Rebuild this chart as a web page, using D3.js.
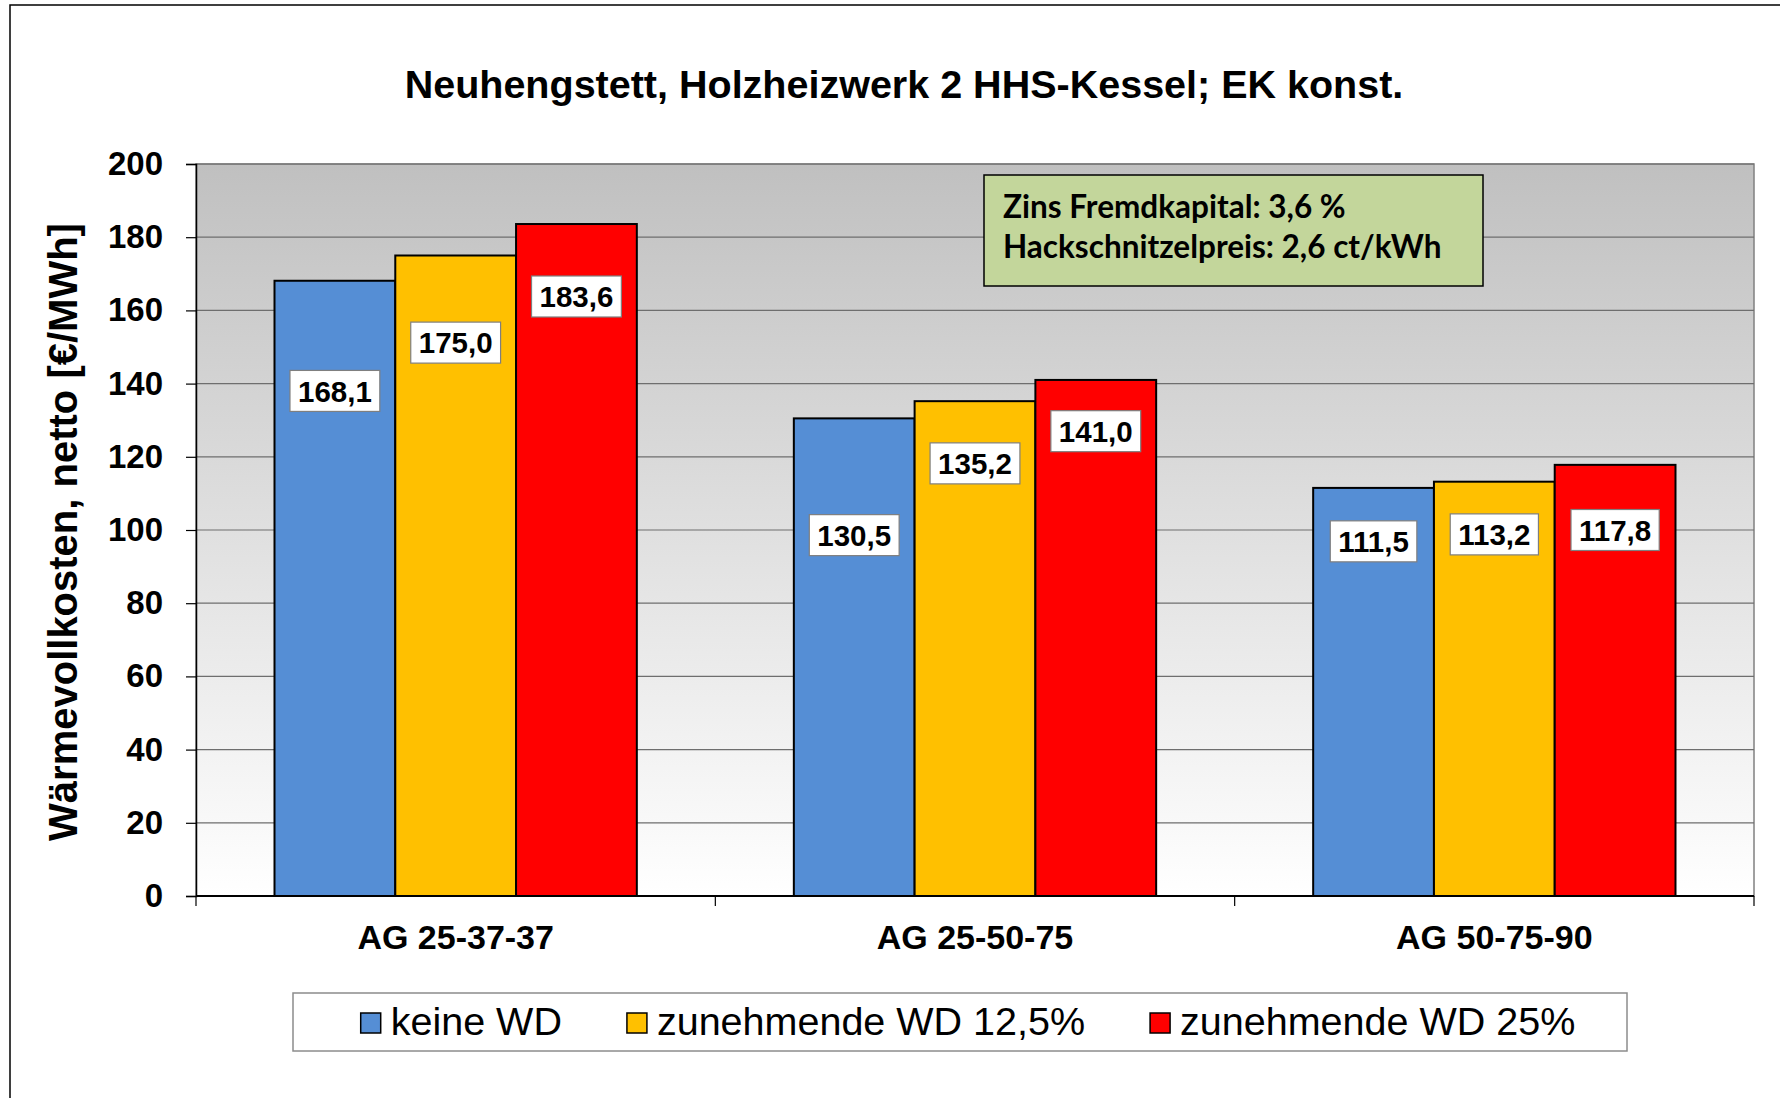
<!DOCTYPE html>
<html>
<head>
<meta charset="utf-8">
<script src="https://cdn.jsdelivr.net/npm/d3@7"></script>
<style>
  html, body { margin: 0; padding: 0; background: #fff; }
  svg { display: block; }
</style>
</head>
<body>
<script>
// ---- data ----
const categories = ["AG 25-37-37", "AG 25-50-75", "AG 50-75-90"];
const seriesNames = ["keine WD", "zunehmende WD 12,5%", "zunehmende WD 25%"];
const keineWD = [168.1, 130.5, 111.5];
const zunehmend125 = [175.0, 135.2, 113.2];
const zunehmend25 = [183.6, 141.0, 117.8];
const yTicks = [0, 20, 40, 60, 80, 100, 120, 140, 160, 180, 200];
const titleText = "Neuhengstett, Holzheizwerk 2 HHS-Kessel; EK konst.";
const yAxisTitle = "Wärmevollkosten, netto [€/MWh]";
const noteLines = ["Zins Fremdkapital: 3,6 %", "Hackschnitzelpreis: 2,6 ct/kWh"];
// label centres (in data units) as placed in the original chart
const labelAtKeine = [138.0, 98.6, 96.9];
const labelAt125 = [151.2, 118.2, 98.8];
const labelAt25 = [163.8, 127.0, 100.0];

const seriesValues = [keineWD, zunehmend125, zunehmend25];
const labelAts = [labelAtKeine, labelAt125, labelAt25];
const colors = ["#558ED5", "#FFC000", "#FF0000"];

const W = 1780, H = 1098;
const plot = { left: 196, right: 1754, top: 164, bottom: 896 };
const FONT = "'Liberation Sans', Arial, sans-serif";

const svg = d3.select("body").append("svg").attr("width", W).attr("height", H);

// outer chart border
svg.append("rect").attr("x", 10).attr("y", 5).attr("width", W + 20).attr("height", H + 20)
  .attr("fill", "#fff").attr("stroke", "#000").attr("stroke-width", 1.5);

// gradient
const defs = svg.append("defs");
const grad = defs.append("linearGradient").attr("id", "bg").attr("x1", 0).attr("y1", 0).attr("x2", 0).attr("y2", 1);
grad.append("stop").attr("offset", "0%").attr("stop-color", "#c0c0c0");
grad.append("stop").attr("offset", "100%").attr("stop-color", "#ffffff");

const y = d3.scaleLinear().domain([0, 200]).range([plot.bottom, plot.top]);
const x0 = d3.scaleBand().domain(categories).range([plot.left, plot.right]).paddingInner(0).paddingOuter(0);
const x1 = d3.scaleBand().domain(d3.range(seriesNames.length)).range([0, x0.bandwidth()]).paddingInner(0).paddingOuter(0.65);

// plot area background
svg.append("rect").attr("x", plot.left).attr("y", plot.top)
  .attr("width", plot.right - plot.left).attr("height", plot.bottom - plot.top)
  .attr("fill", "url(#bg)").attr("stroke", "#808080").attr("stroke-width", 1.5);

// gridlines
svg.append("g").selectAll("line").data(yTicks.filter(d => d > 0)).join("line")
  .attr("x1", plot.left).attr("x2", plot.right)
  .attr("y1", d => y(d)).attr("y2", d => y(d))
  .attr("stroke", "#6e6e6e").attr("stroke-width", 1.2);

// y axis
const yAxis = d3.axisLeft(y).tickValues(yTicks).tickSize(10).tickPadding(23).tickFormat(d3.format("d"));
const gy = svg.append("g").attr("transform", `translate(${plot.left},0)`).call(yAxis);
gy.select(".domain").attr("stroke", "#000").attr("stroke-width", 1.5);
gy.selectAll(".tick line").attr("stroke", "#000").attr("stroke-width", 1.2);
gy.selectAll(".tick text").attr("font-family", FONT).attr("font-size", 33).attr("font-weight", "bold").attr("fill", "#000");

// bars
const groups = svg.append("g").selectAll("g").data(categories).join("g")
  .attr("transform", d => `translate(${x0(d)},0)`);
groups.selectAll("rect").data((c, ci) => seriesValues.map((s, si) => ({ si, v: s[ci] })))
  .join("rect")
  .attr("x", d => x1(d.si)).attr("width", x1.bandwidth())
  .attr("y", d => y(d.v)).attr("height", d => y(0) - y(d.v))
  .attr("fill", d => colors[d.si]).attr("stroke", "#000").attr("stroke-width", 2);

// x axis
const xAxisG = svg.append("g").attr("transform", `translate(0,${plot.bottom})`);
xAxisG.append("line").attr("x1", plot.left).attr("x2", plot.right).attr("y1", 0).attr("y2", 0)
  .attr("stroke", "#000").attr("stroke-width", 2);
const boundaries = categories.map(c => x0(c)).concat([x0(categories[categories.length - 1]) + x0.bandwidth()]);
xAxisG.selectAll("line.t").data(boundaries).join("line").attr("class", "t")
  .attr("x1", d => d).attr("x2", d => d).attr("y1", 0).attr("y2", 10)
  .attr("stroke", "#000").attr("stroke-width", 1.2);
xAxisG.selectAll("text").data(categories).join("text")
  .attr("x", d => x0(d) + x0.bandwidth() / 2).attr("y", 53)
  .attr("text-anchor", "middle").attr("font-family", FONT).attr("font-size", 34).attr("font-weight", "bold")
  .text(d => d);

// data labels
groups.each(function (c, ci) {
  const g = d3.select(this);
  seriesValues.forEach((s, si) => {
    const cx = x1(si) + x1.bandwidth() / 2;
    const cy = y(labelAts[si][ci]);
    const lg = g.append("g");
    const t = lg.append("text").attr("x", cx).attr("y", cy).attr("dy", "0.36em")
      .attr("text-anchor", "middle").attr("font-family", FONT).attr("font-size", 29.5).attr("font-weight", "bold")
      .text(d3.format(".1f")(s[ci]).replace(".", ","));
    const tw = t.node().getComputedTextLength();
    lg.insert("rect", "text").attr("x", cx - tw / 2 - 8).attr("y", cy - 20.5)
      .attr("width", tw + 16).attr("height", 41)
      .attr("fill", "#fff").attr("stroke", "#7f7f7f").attr("stroke-width", 1.2);
  });
});

// y axis title
svg.append("text").attr("transform", "translate(77,532) rotate(-90)")
  .attr("text-anchor", "middle").attr("font-family", FONT).attr("font-size", 40).attr("font-weight", "bold")
  .text(yAxisTitle);

// chart title
svg.append("text").attr("x", 904).attr("y", 98).attr("text-anchor", "middle")
  .attr("font-family", FONT).attr("font-size", 39.5).attr("font-weight", "bold").text(titleText);

// note box
svg.append("rect").attr("x", 984).attr("y", 175).attr("width", 499).attr("height", 111)
  .attr("fill", "#C3D69B").attr("stroke", "#000").attr("stroke-width", 1.5);
svg.append("g").selectAll("text").data(noteLines).join("text")
  .attr("x", 1003).attr("y", (d, i) => 218 + i * 40)
  .attr("font-family", "Lato, 'Open Sans', sans-serif").attr("font-size", 31.5).attr("font-weight", "bold")
  .text(d => d);

// legend
const legBox = { x: 293, y: 993, w: 1334, h: 58 };
svg.append("rect").attr("x", legBox.x).attr("y", legBox.y).attr("width", legBox.w).attr("height", legBox.h)
  .attr("fill", "#fff").attr("stroke", "#8c8c8c").attr("stroke-width", 1.5);
const leg = svg.append("g");
const legGap = 65;
let lx = 0;
seriesNames.forEach((n, i) => {
  const it = leg.append("g").attr("transform", `translate(${lx},0)`);
  it.append("rect").attr("x", 0).attr("y", -22).attr("width", 20).attr("height", 20)
    .attr("fill", colors[i]).attr("stroke", "#000").attr("stroke-width", 1.5);
  const t = it.append("text").attr("x", 30).attr("y", 0).attr("font-family", FONT).attr("font-size", 39.5).text(n);
  lx += 30 + t.node().getComputedTextLength() + legGap;
});
const legW = lx - legGap;
leg.attr("transform", `translate(${legBox.x + (legBox.w - legW) / 2 + 8},1035)`);
</script>
</body>
</html>
